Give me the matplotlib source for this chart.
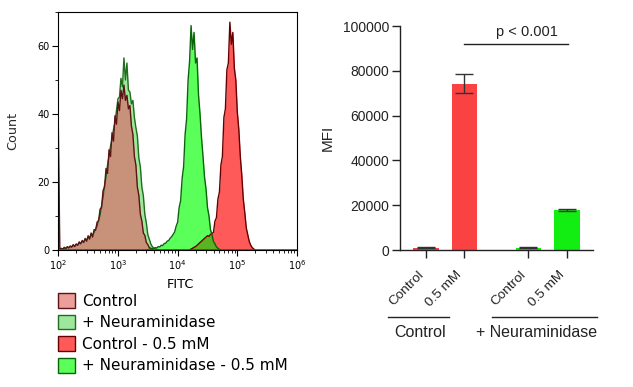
import numpy as np
import matplotlib
matplotlib.use('Agg')
import matplotlib.pyplot as plt
from matplotlib.patches import Patch
from matplotlib.ticker import LogLocator, MultipleLocator, NullFormatter
from matplotlib.transforms import ScaledTranslation

# ---------------- data ----------------
bin_step = 0.025  # log10 width of histogram bins

ctrl_start = 2.0
ctrl_counts = [37, 0.3, 0.5, 0.2, 0.8, 0.4, 1.0, 0.6, 1.2, 0.8, 1.6, 1.0, 1.8, 1.4,
               2.4, 1.8, 2.8, 2.2, 3.4, 2.6, 4.2, 3.2, 5.0, 3.8, 6.0, 5.8, 8.2, 8.6,
               12.0, 12.5, 17.5, 18.5, 24.0, 22.5, 29.5, 27.5, 34.5, 32.0, 39.5, 37.0,
               43.5, 41.0, 47.0, 44.5, 48.5, 44.0, 45.5, 41.5, 42.5, 36.5, 34.0, 27.5,
               25.0, 18.5, 16.0, 10.5, 8.5, 5.0, 4.3, 2.2, 1.6, 0.7, 0.5, 0.2, 0]

neur_start = 2.0
neur_counts = [0, 0.2, 0.4, 0.3, 0.6, 0.5, 0.8, 0.7, 1.0, 1.0, 1.3, 1.2, 1.6, 1.5,
               2.0, 2.0, 2.5, 2.4, 3.0, 3.0, 3.6, 3.6, 4.4, 4.4, 5.2, 6.2, 7.0, 8.8,
               10.2, 13.0, 15.5, 19.0, 21.5, 25.0, 27.5, 30.5, 32.5, 35.5, 37.5, 41.0,
               44.5, 45.0, 50.5, 48.0, 56.5, 50.0, 55.0, 47.0, 46.5, 43.0, 44.0, 39.0,
               36.0, 33.5, 27.0, 24.5, 18.5, 16.0, 10.5, 8.0, 4.5, 3.2, 1.8, 1.0, 0.6,
               0.3, 0.2, 0]

neur05_start = 3.5
neur05_counts = [0, 0.3, 0.2, 0.5, 0.4, 0.7, 0.6, 1.0, 0.9, 1.4, 1.3, 1.9, 2.0, 2.6,
                 2.8, 3.5, 3.9, 4.6, 5.3, 7.0, 8.2, 12.5, 14.5, 21.0, 24.5, 34.0, 38.5,
                 50.0, 55.5, 66.0, 59.0, 64.0, 55.0, 56.5, 45.5, 40.0, 33.0, 27.5, 21.5,
                 18.0, 12.5, 10.0, 6.0, 4.5, 2.5, 1.8, 0.9, 0.5, 0.2, 0]

ctrl05_start = 4.2
ctrl05_counts = [0, 0.3, 0.5, 0.8, 1.0, 1.4, 1.8, 2.2, 2.6, 3.0, 3.4, 3.8, 4.2, 4.0,
                 4.6, 4.8, 5.2, 8.5, 9.5, 15.0, 17.0, 25.0, 27.5, 39.0, 41.5, 53.0,
                 55.0, 67.0, 60.5, 64.0, 53.5, 50.0, 40.5, 35.5, 27.5, 22.0, 15.0, 11.0,
                 6.5, 4.5, 2.5, 1.4, 0.7, 0.3, 0]

legend_labels = ['Control', '+ Neuraminidase', 'Control - 0.5 mM',
                 '+ Neuraminidase - 0.5 mM']

bar_labels = ['Control', '0.5 mM', 'Control', '0.5 mM']
bar_positions = [0, 1, 2.66, 3.66]
bar_values = [1000, 74200, 1000, 17900]
bar_errors = [200, 4150, 200, 600]
group_labels = ['Control', '+ Neuraminidase']
sig_text = 'p < 0.001'

# ---------------- colours ----------------
c_ctrl, e_ctrl = '#eb9e9a', '#5a1414'
c_neur, e_neur = '#9ee89e', '#1e6e1e'
c_overlap1 = '#c8927a'
c_ctrl05, e_ctrl05 = '#ff5a5a', '#640000'
c_neur05, e_neur05 = '#5aff5a', '#0a640a'
c_overlap2 = '#5ab422'
bar_colors = ['#fa4242', '#fa4242', '#12ee12', '#12ee12']

W, H = 633, 387
fig = plt.figure(figsize=(W / 100, H / 100), dpi=100)
plt.rcParams['font.family'] = ['DejaVu Sans']

# ---------------- left: histogram ----------------
axh = fig.add_axes([58.3 / W, 1 - 250 / H, (297 - 58.3) / W, (250 - 12) / H])


def series(start, counts):
    lg = start + bin_step * np.arange(len(counts))
    return lg, np.asarray(counts, dtype=float)


lg_c, y_c = series(ctrl_start, ctrl_counts)
lg_n, y_n = series(neur_start, neur_counts)
lg_n5, y_n5 = series(neur05_start, neur05_counts)
lg_c5, y_c5 = series(ctrl05_start, ctrl05_counts)

# overlap regions
grid1 = np.union1d(lg_c, lg_n)
ov1 = np.minimum(np.interp(grid1, lg_c, y_c, left=0, right=0),
                 np.interp(grid1, lg_n, y_n, left=0, right=0))
grid2 = np.union1d(lg_n5, lg_c5)
ov2 = np.minimum(np.interp(grid2, lg_n5, y_n5, left=0, right=0),
                 np.interp(grid2, lg_c5, y_c5, left=0, right=0))

axh.fill_between(10 ** lg_n, y_n, color=c_neur, lw=0)
axh.fill_between(10 ** lg_c, y_c, color=c_ctrl, lw=0)
axh.fill_between(10 ** grid1, ov1, color=c_overlap1, lw=0)
axh.fill_between(10 ** lg_n5, y_n5, color=c_neur05, lw=0)
axh.fill_between(10 ** lg_c5, y_c5, color=c_ctrl05, lw=0)
axh.fill_between(10 ** grid2, ov2, color=c_overlap2, lw=0)
axh.plot(10 ** lg_n, y_n, color=e_neur, lw=1.0)
axh.plot(10 ** lg_c, y_c, color=e_ctrl, lw=1.0)
axh.plot(10 ** lg_c5, y_c5, color=e_ctrl05, lw=1.0)
axh.plot(10 ** lg_n5, y_n5, color=e_neur05, lw=1.0)
axh.axhline(0, color='#1e6e1e', lw=1.2)

axh.set_xscale('log')
axh.set_xlim(1e2, 1e6)
axh.set_ylim(0, 70)
axh.xaxis.set_major_locator(LogLocator(base=10, numticks=10))
axh.xaxis.set_minor_locator(LogLocator(base=10, subs=np.arange(2, 10), numticks=20))
axh.xaxis.set_minor_formatter(NullFormatter())
axh.yaxis.set_major_locator(MultipleLocator(20))
axh.yaxis.set_minor_locator(MultipleLocator(10))
axh.tick_params(axis='both', which='major', labelsize=7, length=4, width=0.8, pad=2,
                direction='out')
axh.tick_params(axis='both', which='minor', length=2.5, width=0.6, direction='out')
for s in axh.spines.values():
    s.set_linewidth(0.8)
fig.text(180 / W, 1 - 284 / H, 'FITC', ha='center', va='center', fontsize=9.3)
fig.text(13 / W, 1 - 131 / H, 'Count', ha='center', va='center', fontsize=9.2,
         rotation=90, color='#2a2a2a')

# legend
handles = [Patch(facecolor=c_ctrl, edgecolor=e_ctrl, lw=1),
           Patch(facecolor=c_neur, edgecolor=e_neur, lw=1),
           Patch(facecolor=c_ctrl05, edgecolor=e_ctrl05, lw=1),
           Patch(facecolor=c_neur05, edgecolor=e_neur05, lw=1)]
fig.legend(handles, legend_labels, loc='upper left',
           bbox_to_anchor=(58 / W, 1 - 293 / H), frameon=False, fontsize=11,
           borderpad=0, borderaxespad=0, labelspacing=0.4, handlelength=1.1,
           handleheight=1.1, handletextpad=0.45)

# ---------------- right: bar chart ----------------
axb = fig.add_axes([400 / W, 1 - 250 / H, (592.7 - 400) / W, 224 / H])
axb.bar(bar_positions, bar_values, width=0.66, color=bar_colors)
axb.errorbar(bar_positions, bar_values, yerr=bar_errors, fmt='none',
             ecolor='#333333', elinewidth=1, capsize=6.5, capthick=1)
axb.set_xlim(-0.675, 4.33)
axb.set_ylim(0, 100000)
axb.set_yticks([0, 20000, 40000, 60000, 80000, 100000])
axb.set_yticklabels(['0', '20000', '40000', '60000', '80000', '100000'])
axb.set_xticks(bar_positions)
axb.set_xticklabels(bar_labels, rotation=45, ha='right', va='top',
                    family='Liberation Sans', fontsize=9.7)
shift = ScaledTranslation(3 / 100, 0, fig.dpi_scale_trans)
for lab in axb.get_xticklabels():
    lab.set_transform(lab.get_transform() + shift)
for lab in axb.get_yticklabels():
    lab.set_family('Liberation Sans')
    lab.set_fontsize(10)
axb.tick_params(axis='y', length=6, width=1, pad=2, colors='#222222')
axb.tick_params(axis='x', length=5.5, width=1, pad=8, colors='#222222')
for side in ('top', 'right'):
    axb.spines[side].set_visible(False)
for side in ('left', 'bottom'):
    axb.spines[side].set_linewidth(1)
    axb.spines[side].set_color('#222222')

# significance
axb.plot([0.987, 3.70], [92000, 92000], color='#222222', lw=1, clip_on=False)
axb.text(2.62, 97300, sig_text, ha='center', va='center', fontsize=10.5,
         family='Liberation Sans', color='#222222')

# group annotations
tr = axb.get_xaxis_transform()
axb.plot([-0.987, 0.597], [-0.299, -0.299], transform=tr, color='#222222', lw=1,
         clip_on=False)
axb.plot([1.714, 4.44], [-0.299, -0.299], transform=tr, color='#222222', lw=1,
         clip_on=False)
axb.text(-0.156, -0.37, group_labels[0], transform=tr, ha='center', va='center',
         fontsize=11.5, family='Liberation Sans', color='#222222')
axb.text(2.88, -0.37, group_labels[1], transform=tr, ha='center', va='center',
         fontsize=11.5, family='Liberation Sans', color='#222222')

fig.text(328 / W, 1 - 138 / H, 'MFI', rotation=90, ha='center', va='center',
         fontsize=11, family='Liberation Sans', color='#222222')

fig.savefig('out.png', dpi=100)
